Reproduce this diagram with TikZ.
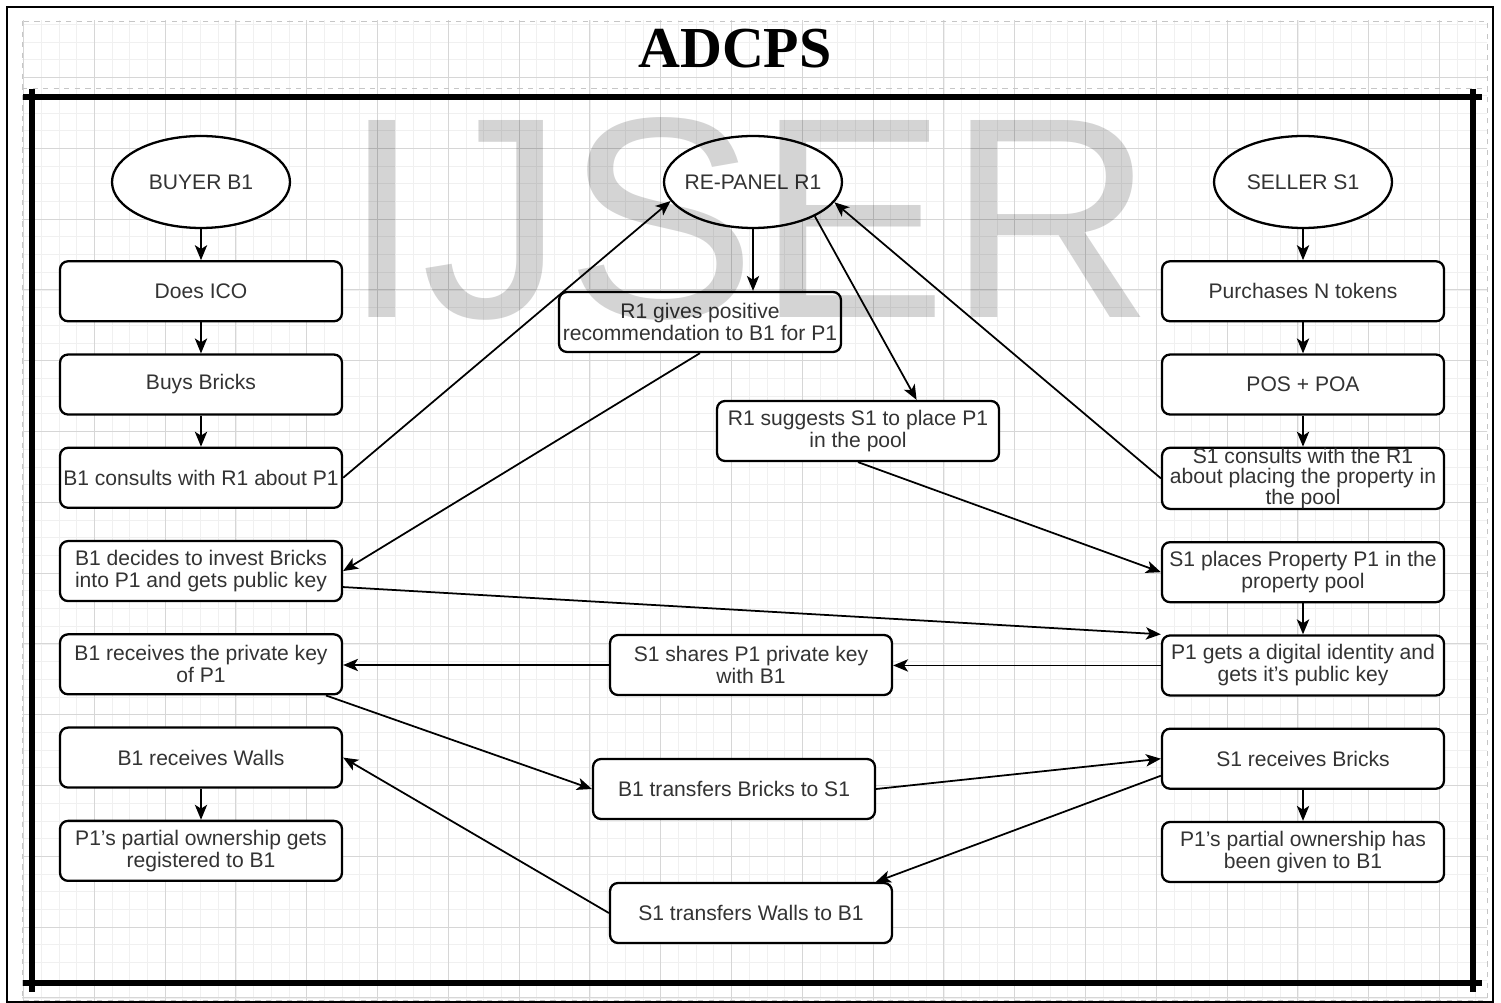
\documentclass[tikz,border=0pt]{standalone}
\usepackage{fontspec}
\setmainfont{Liberation Sans}
\newfontfamily\titlefont{Liberation Serif}
\usepackage{tikz}
\usetikzlibrary{positioning, arrows.meta, shapes.geometric}

\begin{document}
\begin{tikzpicture}[x=0.02cm, y=-0.02cm, node distance=0.62cm,
    block/.style={rectangle, rounded corners=0.16cm, draw, line width=1.3pt, fill=white,
        minimum width=5.64cm, minimum height=1.2cm, inner xsep=1pt, inner ysep=2pt,
        align=center, text=black!80, font=\fontsize{12}{12.6}\selectfont},
    actor/.style={ellipse, draw, line width=1.3pt, fill=white, minimum width=3.56cm,
        minimum height=1.84cm, inner xsep=-4pt, inner ysep=0pt, text=black!80,
        font=\fontsize{12}{12.6}\selectfont},
    link/.style={-{Stealth[length=8.5pt,width=7pt,inset=2.2pt]}, line width=1pt}]
    \useasboundingbox (0,0) rectangle (1501,1003);
    \fill[white] (0,0) rectangle (1501,1003);

    % grid paper
    \begin{scope}
        \clip (22,21) rectangle (1487,1000);
        \foreach \k in {0,...,83}
            \draw[gray!12, line width=0.4pt] ({23.5+17.7*\k},0) -- ++(0,1003);
        \foreach \k in {0,...,56}
            \draw[gray!12, line width=0.4pt] (0,{6.7+17.7*\k}) -- ++(1501,0);
        \foreach \k in {0,...,20}
            \draw[gray!32, line width=0.5pt] ({23.5+70.8*\k},0) -- ++(0,1003);
        \foreach \k in {0,...,14}
            \draw[gray!32, line width=0.5pt] (0,{6.7+70.8*\k}) -- ++(1501,0);
    \end{scope}
    \draw[gray!45, dashed] (22,21) rectangle (1487,1000);
    \draw[gray!45, dashed] (22,88) -- (1487,88);
    \draw[line width=0.9pt] (7,7) rectangle (1493,1002);

    % frame
    \draw[line width=3.4pt] (23,97) -- (1482,97);
    \draw[line width=3.4pt] (23,983) -- (1482,983);
    \draw[line width=3.4pt] (32,89) -- (32,992);
    \draw[line width=3.4pt] (1473,89) -- (1473,992);

    \node[anchor=base, font=\titlefont\bfseries\fontsize{33}{33}\selectfont] (title) at (735,68) {ADCPS};

    % buyer side
    \node[actor] (buyer) at (201,182) {BUYER B1};
    \node[block, below=of buyer] (doesico) {Does ICO};
    \node[block, below=of doesico] (buys) {Buys Bricks};
    \node[block, below=of buys] (bconsult) {B1 consults with R1 about P1};
    \node[block, below=of bconsult] (decide) {B1 decides to invest Bricks\\into P1 and gets public key};
    \node[block, below=of decide] (bpriv) {B1 receives the private key\\of P1};
    \node[block, below=of bpriv] (bwalls) {B1 receives Walls};
    \node[block, below=of bwalls] (bown) {P1's partial ownership gets\\registered to B1};

    % seller side
    \node[actor] (seller) at (1303,182) {SELLER S1};
    \node[block, below=of seller] (purchase) {Purchases N tokens};
    \node[block, below=of purchase] (posa) {POS + POA};
    \node[block, below=of posa, inner ysep=0pt, font=\fontsize{12}{11.8}\selectfont] (sconsult)
        {S1 consults with the R1\\about placing the property in\\the pool};
    \node[block, below=of sconsult] (splace) {S1 places Property P1 in the\\property pool};
    \node[block, below=of splace] (pdigital) {P1 gets a digital identity and\\gets it's public key};
    \node[block, below=of pdigital] (sbricks) {S1 receives Bricks};
    \node[block, below=of sbricks] (sown) {P1's partial ownership has\\been given to B1};

    % panel and the middle
    \node[actor] (rpanel) at (753,182) {RE-PANEL R1};
    \node[block] (recom) at (700,322) {R1 gives positive\\recommendation to B1 for P1};
    \node[block] (suggest) at (858,431) {R1 suggests S1 to place P1\\in the pool};
    \node[block] (share) at (751,665) {S1 shares P1 private key\\with B1};
    \node[block] (btransfer) at (734,789) {B1 transfers Bricks to S1};
    \node[block] (swalls) at (751,913) {S1 transfers Walls to B1};

    \path[link] (buyer) edge (doesico)
          (doesico) edge (buys)
          (buys) edge (bconsult)
          (bwalls) edge (bown)
          (seller) edge (purchase)
          (purchase) edge (posa)
          (posa) edge (sconsult)
          (splace) edge (pdigital)
          (sbricks) edge (sown);

    \path[link] (bconsult.east) edge (rpanel.193)
          (rpanel.south) edge (rpanel.south |- recom.north)
          (recom.south) edge (decide.east)
          (rpanel.331) edge (suggest.28)
          (sconsult.west) edge (rpanel.346)
          (suggest.south) edge (splace.west)
          ([yshift=-0.32cm]decide.east) edge (pdigital.north west)
          (pdigital.west) edge (pdigital.west -| share.east)
          (share.west) edge (share.west -| bpriv.east)
          (bpriv.-14) edge (btransfer.west)
          (btransfer.east) edge (sbricks.west)
          ([yshift=-0.34cm]sbricks.west) edge (swalls.14)
          (swalls.west) edge (bwalls.east);

    % watermark
    \node[anchor=base, font=\fontsize{163}{163}\selectfont, text=black, opacity=0.17] (mark) at (748,318) {IJSER};
\end{tikzpicture}
\end{document}
